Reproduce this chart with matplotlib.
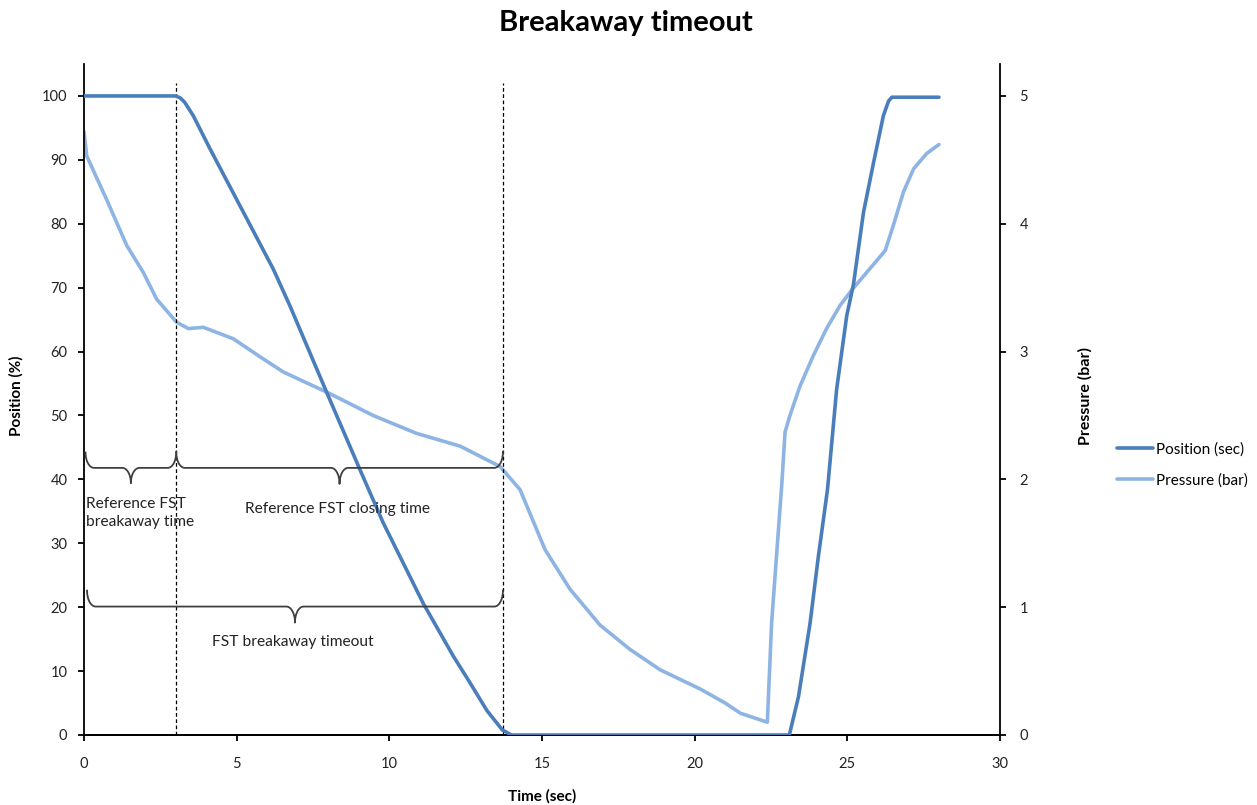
import matplotlib
matplotlib.use('Agg')
import matplotlib.pyplot as plt
import numpy as np

plt.rcParams['font.family'] = ['Lato', 'DejaVu Sans']

# valve position (%) against time (sec)
pos_t = [0.0, 3.0, 3.15, 3.3, 3.58, 4.13, 5.11, 6.2, 6.75, 7.95, 9.04, 9.8, 11.11,
         12.1, 12.6, 13.2, 13.7, 14.0, 23.1, 23.4, 23.78, 24.05, 24.35, 24.65,
         24.98, 25.2, 25.53, 25.86, 26.18, 26.35, 26.46, 28.0]
pos_pct = [100, 100, 99.7, 99.0, 96.9, 91.7, 82.8, 72.9, 67.1, 53.6, 41.5, 33.2, 20.6,
           12.3, 8.5, 3.8, 0.8, 0, 0, 6.0, 17.5, 27.9, 38.4, 54.1,
           65.6, 70.5, 81.8, 89.6, 96.9, 99.2, 99.8, 99.8]

# supply pressure (bar) against time (sec)
pres_t = [0.0, 0.09, 0.74, 1.4, 1.94, 2.38, 3.03, 3.42, 3.91, 4.89, 5.76, 6.53,
          8.06, 9.47, 10.89, 12.32, 13.63, 14.28, 15.1, 15.92, 16.9, 17.88,
          18.87, 20.18, 21.0, 21.5, 22.38, 22.52, 22.68, 22.85, 22.96, 23.12,
          23.45, 23.89, 24.32, 24.76, 25.14, 25.53, 26.24, 26.51, 26.84, 27.17,
          27.6, 28.0]
pres_bar = [4.72, 4.53, 4.19, 3.83, 3.62, 3.41, 3.23, 3.18, 3.19, 3.10, 2.96, 2.84,
            2.67, 2.50, 2.36, 2.26, 2.10, 1.92, 1.45, 1.14, 0.86, 0.67,
            0.51, 0.36, 0.25, 0.17, 0.10, 0.875, 1.40, 1.95, 2.37, 2.50,
            2.73, 2.97, 3.18, 3.36, 3.48, 3.59, 3.79, 3.99, 4.25, 4.43,
            4.55, 4.62]

# event markers (sec)
t_breakaway = 3.02
t_closed = 13.72

fig = plt.figure(figsize=(12.57, 8.05), dpi=100)
ax = fig.add_axes([84 / 1257, 1 - 735 / 805, 916 / 1257, 671 / 805])
ax2 = ax.twinx()

c_pos = '#4a7ebb'
c_pres = '#8eb4e3'

l1, = ax.plot(pos_t, pos_pct, color=c_pos, lw=2.6, solid_capstyle='round', zorder=4,
              label='Position (sec)')
l2, = ax2.plot(pres_t, pres_bar, color=c_pres, lw=2.6, solid_capstyle='round', zorder=3,
               label='Pressure (bar)')
ax.set_zorder(ax2.get_zorder() + 1)
ax.patch.set_visible(False)

for tv in (t_breakaway, t_closed):
    ax.plot([tv, tv], [0, 102], color='black', lw=0.9, ls=(0, (3, 2)), zorder=2)


def brace(ax, x0, x1, y, h, w=0.28, color='#404040'):
    # horizontal curly brace with the tip pointing down
    xm = (x0 + x1) / 2
    th = np.linspace(0, np.pi / 2, 20)
    hook_l = (x0 + w * (1 - np.cos(th)), y + h * (1 - np.sin(th)))
    tip_l = (xm - w + w * np.sin(th), y - h * (1 - np.cos(th)))
    tip_r = (xm + w - w * np.sin(th[::-1]), y - h * (1 - np.cos(th[::-1])))
    hook_r = (x1 - w * (1 - np.cos(th[::-1])), y + h * (1 - np.sin(th[::-1])))
    xs = np.concatenate([hook_l[0], tip_l[0], tip_r[0], hook_r[0]])
    ys = np.concatenate([hook_l[1], tip_l[1], tip_r[1], hook_r[1]])
    ax.plot(xs, ys, color=color, lw=1.3, zorder=5)


brace(ax, 0.05, t_breakaway, 41.8, 2.4)
brace(ax, t_breakaway, t_closed, 41.8, 2.5)
brace(ax, 0.1, t_closed, 20.1, 2.5)

ax.text(0.05, 37.2, 'Reference FST\nbreakaway time', ha='left', va='top',
        fontsize=11.2, linespacing=1.3, color='#222222', zorder=6)
ax.text(8.3, 35.4, 'Reference FST closing time', ha='center', va='center',
        fontsize=11.2, color='#222222', zorder=6)
ax.text(6.85, 14.5, 'FST breakaway timeout', ha='center', va='center',
        fontsize=11.2, color='#222222', zorder=6)

ax.set_xlim(0, 30)
ax.set_ylim(0, 105)
ax2.set_ylim(0, 5.25)
ax.set_xticks(np.arange(0, 31, 5))
ax.set_yticks(np.arange(0, 101, 10))
ax2.set_yticks(np.arange(0, 6, 1))

for a in (ax, ax2):
    a.spines['top'].set_visible(False)
    for s in a.spines.values():
        s.set_linewidth(1.3)
    a.tick_params(direction='out', length=4, width=1.3, labelsize=10.5, colors='black',
                  labelcolor='#222222')
ax.tick_params(axis='x', pad=12)
ax.tick_params(axis='y', pad=8)
ax2.tick_params(axis='y', pad=10)
ax2.spines['left'].set_visible(False)
ax.spines['right'].set_visible(False)

ax.set_xlabel('Time (sec)', fontsize=11, fontweight='bold')
ax.xaxis.set_label_coords(0.5, -0.08)
ax.set_ylabel('Position (%)', fontsize=11, fontweight='bold')
ax.yaxis.set_label_coords(-0.066, 0.505)
ax2.set_ylabel('Pressure (bar)', fontsize=11.5, fontweight='bold')
ax2.yaxis.set_label_coords(1.085, 0.505)

fig.suptitle('Breakaway timeout', fontsize=21, fontweight='bold', x=0.498, y=0.987)

fig.legend(handles=[l1, l2], loc='center left', bbox_to_anchor=(1103 / 1257, 1 - 465 / 805),
           frameon=False, fontsize=11, handlelength=2.4, handletextpad=0.2,
           labelspacing=1.1)

fig.savefig('out.png', dpi=100)
